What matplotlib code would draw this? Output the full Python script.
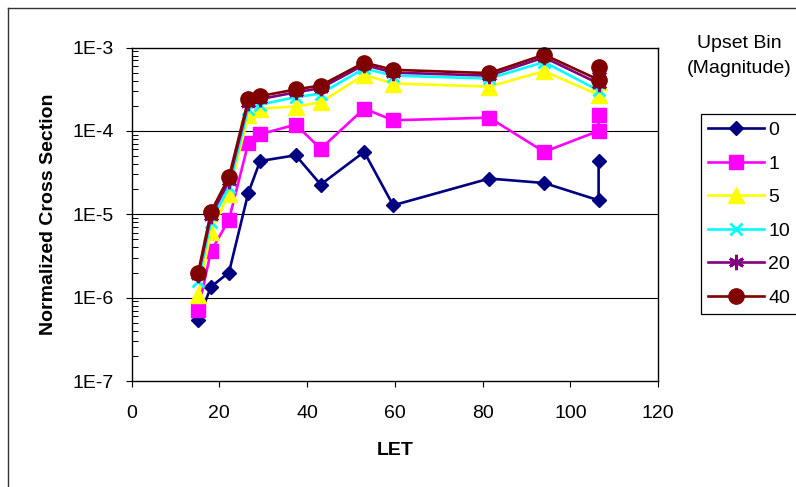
import matplotlib
matplotlib.use('Agg')
import matplotlib.pyplot as plt
from matplotlib.lines import Line2D
from matplotlib.ticker import LogLocator, FixedLocator, NullFormatter, FuncFormatter

plt.rcParams['font.family'] = ['Liberation Sans', 'DejaVu Sans']

# LET of each run; the last energy was measured twice
let_values = [15.2, 18.1, 22.2, 26.6, 29.3, 37.4, 43.1, 53.0, 59.6, 81.5, 94.0, 106.4, 106.4]

# normalized cross section per upset bin
bin_0 = [5.4e-7, 1.35e-6, 2.0e-6, 1.8e-5, 4.35e-5, 5.1e-5, 2.27e-5, 5.6e-5,
         1.28e-5, 2.68e-5, 2.37e-5, 1.47e-5, 4.3e-5]
bin_1 = [7.2e-7, 3.6e-6, 8.6e-6, 7.1e-5, 9.1e-5, 1.19e-4, 6.1e-5, 1.85e-4,
         1.34e-4, 1.44e-4, 5.6e-5, 1.0e-4, 1.53e-4]
bin_5 = [1.07e-6, 6.2e-6, 1.77e-5, 1.53e-4, 1.85e-4, 1.96e-4, 2.2e-4, 4.7e-4,
         3.7e-4, 3.4e-4, 5.2e-4, 2.7e-4, 3.9e-4]
bin_10 = [1.6e-6, 8.1e-6, 2.1e-5, 1.85e-4, 2.07e-4, 2.54e-4, 2.8e-4, 5.6e-4,
          4.6e-4, 4.25e-4, 6.7e-4, 3.05e-4, 4.75e-4]
bin_20 = [1.85e-6, 9.5e-6, 2.5e-5, 2.15e-4, 2.4e-4, 2.9e-4, 3.25e-4, 6.2e-4,
          5.0e-4, 4.6e-4, 7.6e-4, 3.7e-4, 5.4e-4]
bin_40 = [2.0e-6, 1.07e-5, 2.8e-5, 2.38e-4, 2.61e-4, 3.14e-4, 3.5e-4, 6.6e-4,
          5.4e-4, 4.93e-4, 8.2e-4, 4.1e-4, 5.8e-4]

bin_labels = ['0', '1', '5', '10', '20', '40']
x_ticks = [0, 20, 40, 60, 80, 100, 120]
y_ticks = [1e-7, 1e-6, 1e-5, 1e-4, 1e-3]
y_tick_labels = ['1E-7', '1E-6', '1E-5', '1E-4', '1E-3']

W, H = 796, 487
FONTSIZE = 14
SERIES_STYLE = [
    dict(color='#000080', marker='D', ms=7.5),
    dict(color='#FF00FF', marker='s', ms=10.5),
    dict(color='#FFFF00', marker='^', ms=11),
    dict(color='#00FFFF', marker='x', ms=9, mew=2),
    dict(color='#800080', marker=(6, 2, 0), ms=11, mew=2),
    dict(color='#800000', marker='o', ms=11),
]


def px(x, y):
    # pixel position (from top-left) to figure fraction
    return x / W, 1 - y / H


fig = plt.figure(figsize=(W / 100, H / 100), dpi=100)
fig.patch.set_facecolor('white')

left, top = px(131.5, 47.5)
right, bottom = px(658.3, 381)
ax = fig.add_axes([left, bottom, right - left, top - bottom])

handles = []
for values, style in zip([bin_0, bin_1, bin_5, bin_10, bin_20, bin_40], SERIES_STYLE):
    l, = ax.plot(let_values, values, lw=1.9, mec=style['color'], clip_on=False, **style)
    handles.append(l)

ax.set_yscale('log')
ax.set_xlim(0, 120)
ax.set_ylim(1e-7, 1e-3)
ax.xaxis.set_major_locator(FixedLocator(x_ticks))
ax.yaxis.set_major_locator(FixedLocator(y_ticks))
ax.yaxis.set_major_formatter(FuncFormatter(lambda v, p: y_tick_labels[y_ticks.index(v)] if v in y_ticks else ''))
ax.yaxis.set_minor_locator(LogLocator(base=10, subs=range(2, 10)))
ax.yaxis.set_minor_formatter(NullFormatter())
ax.tick_params(axis='both', which='major', direction='out', length=4, width=0.8,
               labelsize=FONTSIZE, color='black')
ax.tick_params(axis='x', which='major', pad=13)
ax.tick_params(axis='y', which='major', pad=9)
ax.tick_params(axis='y', which='minor', direction='in', length=4, width=0.7)
ax.xaxis.set_minor_locator(FixedLocator([]))

for v in y_ticks[1:-1]:
    ax.axhline(v, color='black', lw=0.8, zorder=0.5)
for s in ax.spines.values():
    s.set_linewidth(1.0)
    s.set_color('black')

ax.set_xlabel('LET', fontsize=FONTSIZE, fontweight='bold', labelpad=15)
ax.set_ylabel('Normalized Cross Section', fontsize=FONTSIZE, fontweight='bold', labelpad=11)

# legend sits to the right of the plot area
fig.text(*px(739, 56), 'Upset Bin\n(Magnitude)', ha='center', va='center',
         fontsize=FONTSIZE, linespacing=1.6)
leg = fig.legend(handles, bin_labels, loc='upper left', bbox_to_anchor=px(700.7, 114),
                 fontsize=FONTSIZE, frameon=True, fancybox=False, edgecolor='black',
                 framealpha=1.0, borderpad=0.38, labelspacing=0.82, handlelength=2.85,
                 handletextpad=0.25, borderaxespad=0)
leg.get_frame().set_linewidth(0.9)

# outer chart border
fig.add_artist(Line2D([8 / W, 1], [1 - 7.5 / H] * 2, color='#333333', lw=1.0))
fig.add_artist(Line2D([8 / W] * 2, [0, 1 - 7.5 / H], color='#333333', lw=1.0))

fig.savefig('out.png', dpi=100)
